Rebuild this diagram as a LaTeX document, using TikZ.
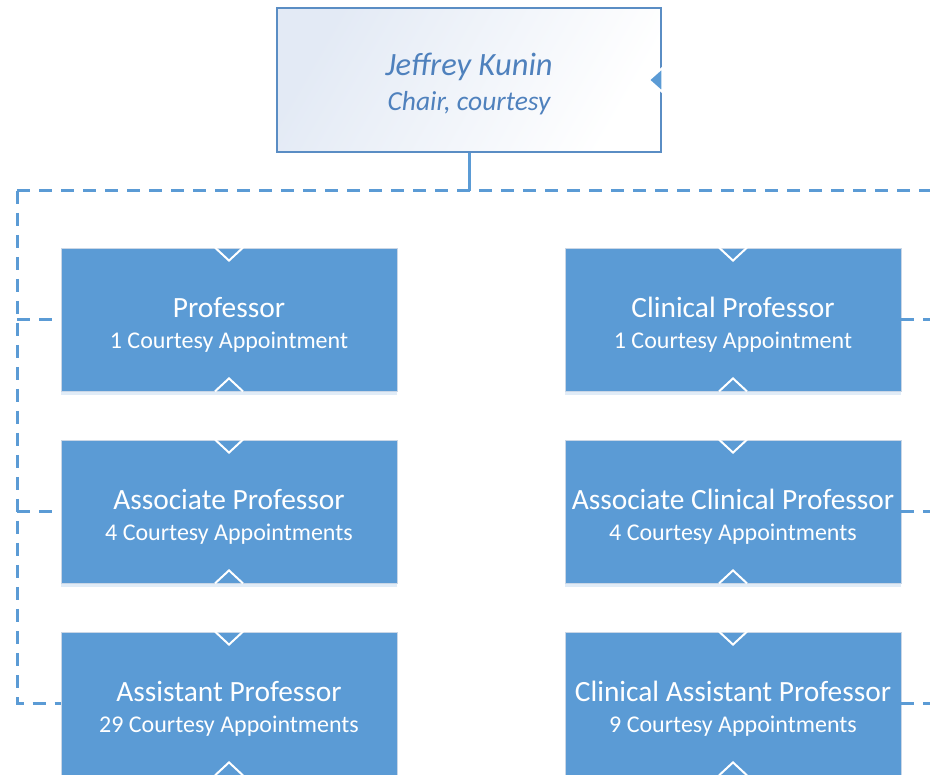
\documentclass[tikz,border=0pt]{standalone}
\usepackage{fontspec}
\setmainfont{Carlito}
\usetikzlibrary{shadows,calc}
\definecolor{boxblue}{HTML}{5B9BD5}
\definecolor{edgeblue}{HTML}{5A8DC4}
\definecolor{textblue}{HTML}{4F81BD}
\definecolor{linkblue}{HTML}{5B9BD5}
\definecolor{paleblue}{HTML}{E3EAF5}
\definecolor{rimgray}{HTML}{C9D6E6}
\tikzset{
  x=1pt, y=-1pt,
  rolebox/.style={rectangle, fill=boxblue, draw=rimgray, line width=0.8pt,
    minimum width=336pt, minimum height=143pt, inner sep=0pt, align=center,
    text=white, font=\fontsize{24}{31}\selectfont,
    drop shadow={shadow xshift=0pt, shadow yshift=-4pt, opacity=0.18, fill=boxblue}},
  headbox/.style={rectangle, draw=edgeblue, line width=1.6pt,
    left color=paleblue, right color=white, shading angle=60,
    minimum width=384pt, minimum height=144pt, inner sep=0pt, align=center,
    text=textblue, font=\itshape\fontsize{27.5}{35}\selectfont},
  link/.style={draw=linkblue, line width=3pt, dash pattern=on 13pt off 9pt},
  solidlink/.style={draw=linkblue, line width=3pt},
  notch/.style={draw=white, line width=2pt, line join=miter},
}
\newcommand{\roletext}[2]{{\fontsize{29.4}{31}\selectfont\rule{0pt}{30pt}#1}\\#2}
\begin{document}
\begin{tikzpicture}
\clip (0,0) rectangle (930,775);
\fill[white] (0,0) rectangle (930,775);

% connectors
\coordinate (hub) at (469,191);
\coordinate (lt) at (17,191);
\coordinate (rt) at (931,191);

\node[headbox] (chair) at (469,80) {{\fontsize{32.5}{35}\selectfont\rule{0pt}{30pt}Jeffrey Kunin}\\Chair, courtesy};

\node[rolebox] (p1) at (229,319.5) {\roletext{Professor}{1 Courtesy Appointment}};
\node[rolebox] (p2) at (229,511.5) {\roletext{Associate Professor}{4 Courtesy Appointments}};
\node[rolebox] (p3) at (229,703.5) {\roletext{Assistant Professor}{29 Courtesy Appointments}};
\node[rolebox] (c1) at (733,319.5) {\roletext{Clinical Professor}{1 Courtesy Appointment}};
\node[rolebox] (c2) at (733,511.5) {\roletext{Associate Clinical Professor}{4 Courtesy Appointments}};
\node[rolebox] (c3) at (733,703.5) {\roletext{Clinical Assistant Professor}{9 Courtesy Appointments}};

\draw[solidlink] (chair.south) -- (hub);
\draw[link] (lt) -- (rt);
\draw[link] (lt) |- (p3.west);
\draw[link] (p1.west -| lt) -- (p1.west);
\draw[link] (p2.west -| lt) -- (p2.west);
\draw[link] (c1.east) -- (c1.east -| rt);
\draw[link] (c2.east) -- (c2.east -| rt);
\draw[link] (c3.east) -- (c3.east -| rt);

% notches on role boxes
\foreach \n in {p1,p2,p3,c1,c2,c3}{
  \draw[notch] ($(\n.north)+(-14,0)$) -- ($(\n.north)+(0,13)$) -- ($(\n.north)+(14,0)$);
  \draw[notch] ($(\n.south)+(-14,0)$) -- ($(\n.south)+(0,-13)$) -- ($(\n.south)+(14,0)$);
}
% small pointer on the chair box
\draw[fill=boxblue, draw=white, line width=2pt] ($(chair.east)+(0.5,-12)$) -- ($(chair.east)+(-13,0)$) -- ($(chair.east)+(0.5,12)$) -- cycle;
\end{tikzpicture}
\end{document}
